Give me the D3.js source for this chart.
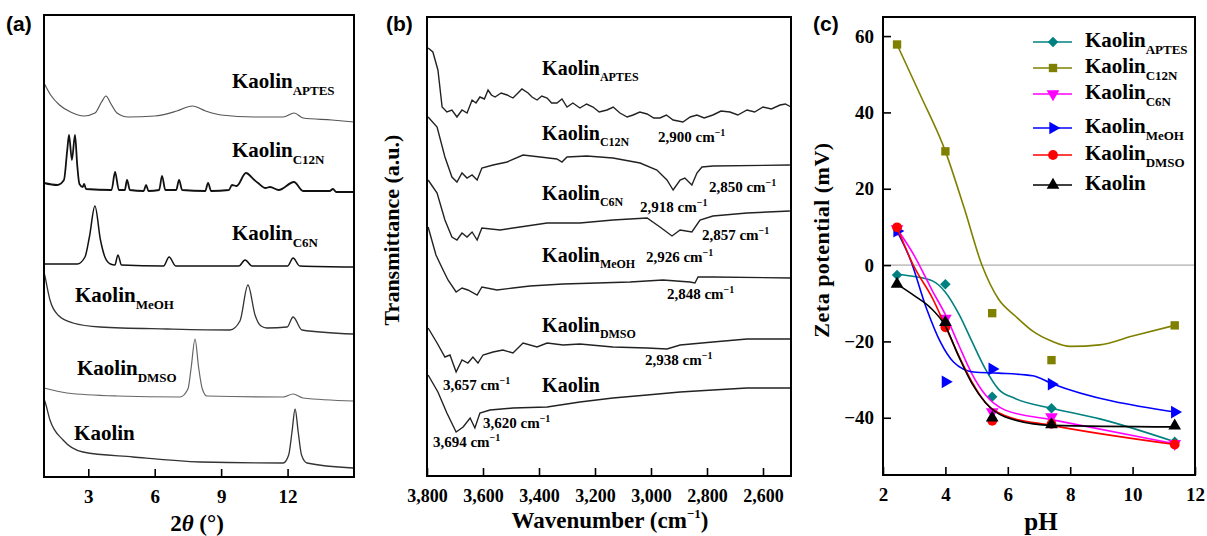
<!DOCTYPE html>
<html>
<head>
<meta charset="utf-8">
<script src="https://cdn.jsdelivr.net/npm/d3@7"></script>
<style>
body{margin:0;background:#fff}
svg text{font-family:"Liberation Serif","Times New Roman","DejaVu Serif",serif;font-weight:bold;fill:#000}
svg text.plab{font-family:"Liberation Sans",Arial,sans-serif}
</style>
</head>
<body>
<div id="fig"></div>
<script>
// ---- (a) XRD, 2theta vs intensity (a.u., stacked) ----
var xrdTicks = [3, 6, 9, 12];
var xrdAptes = [[1.0,394],[1.3,382],[1.7,372],[2.2,365],[2.8,361],[3.3,364],[3.6,375],[3.8,381],[4.0,374],[4.3,364],[4.8,360],[6.0,361],[7.0,366],[7.7,371],[8.3,366],[9.0,362],[10.5,360],[11.8,360],[12.3,364],[12.7,359],[14.0,357],[15.0,355]];
var xrdC12n = [[1.0,294],[1.6,292],[1.9,297],[2.05,327],[2.13,342],[2.26,317],[2.4,342],[2.5,312],[2.6,293],[2.75,290],[2.81,293],[2.9,288],[4.05,287],[4.21,305],[4.38,287],[4.65,287],[4.75,297],[4.88,287],[5.5,286],[5.61,292],[5.72,286],[6.2,287],[6.33,301],[6.48,287],[6.97,287],[7.1,297],[7.24,287],[8.28,286],[8.41,294],[8.55,286],[9.35,287],[9.49,292],[9.7,291],[10.12,304],[10.5,297],[10.67,294],[11.0,289],[11.21,290],[11.6,287],[12.29,295],[12.7,286],[13.9,286],[14.05,288],[14.2,285],[15.0,285]];
var xrdC6n = [[1.0,213],[2.5,213],[2.85,220],[3.05,240],[3.3,271],[3.55,237],[3.75,220],[4.0,213],[4.2,212],[4.34,222],[4.5,212],[6.4,211],[6.65,220],[6.95,211],[9.8,211],[10.08,217],[10.4,211],[12.0,211],[12.25,219],[12.55,211],[15.0,210]];
var xrdMeoh = [[1.0,205],[1.05,200],[1.27,177],[1.63,162],[2.31,154],[3.53,150],[6.56,148],[9.4,147],[9.85,156],[10.21,192],[10.53,162],[10.8,151],[11.07,149],[11.98,150],[12.25,160],[12.65,147],[14.96,143]];
var xrdDmso = [[1.0,89],[2.04,84],[4.3,81],[7.14,80],[7.5,88],[7.65,110],[7.82,138],[7.98,110],[8.15,88],[8.36,81],[11.8,80],[12.25,83],[12.7,79],[14.96,76]];
var xrdKaolin = [[1.0,78],[1.05,75],[1.27,57],[1.86,37],[2.76,25],[5.02,20],[8.05,15],[11.8,14],[12.05,22],[12.2,45],[12.34,68],[12.48,45],[12.63,22],[12.88,14],[14.96,9]];

// ---- (b) FTIR, wavenumber vs transmittance (a.u., stacked) ----
var irTicks = [3800, 3600, 3400, 3200, 3000, 2800, 2600];
var irAptes = [[3796,428],[3779,424],[3761,406],[3746,369],[3729,364],[3711,366],[3693,359],[3675,366],[3657,363],[3639,376],[3625,373],[3611,379],[3595,377],[3582,386],[3570,381],[3557,379],[3535,383],[3514,381],[3493,378],[3475,383],[3461,387],[3439,383],[3425,379],[3407,376],[3390,380],[3371,378],[3355,373],[3336,373],[3318,377],[3300,369],[3279,373],[3254,368],[3230,372],[3207,369],[3185,364],[3157,366],[3135,369],[3111,363],[3085,359],[3064,361],[3040,364],[3014,362],[2990,358],[2968,358],[2945,361],[2921,356],[2886,354],[2860,359],[2836,361],[2810,358],[2779,361],[2750,365],[2718,364],[2690,361],[2657,366],[2630,364],[2600,369],[2570,367],[2539,371],[2520,372],[2500,369]];
var irC12n = [[3796,359],[3764,349],[3736,319],[3711,299],[3693,294],[3675,303],[3657,298],[3639,301],[3621,296],[3604,308],[3564,311],[3514,314],[3457,321],[3396,319],[3336,317],[3318,314],[3300,319],[3229,320],[3136,318],[3039,313],[2979,306],[2943,296],[2921,286],[2896,296],[2879,298],[2854,291],[2836,303],[2818,309],[2779,310],[2504,311]];
var irC6n = [[3796,296],[3764,283],[3736,256],[3711,239],[3693,236],[3675,243],[3657,239],[3639,244],[3621,236],[3604,248],[3539,246],[3468,249],[3371,253],[3254,253],[3136,256],[3014,258],[2968,249],[2925,240],[2896,246],[2854,244],[2825,256],[2779,260],[2657,263],[2504,265]];
var irMeoh = [[3796,249],[3768,221],[3746,208],[3725,196],[3696,184],[3675,188],[3654,186],[3621,181],[3604,189],[3550,186],[3493,188],[3432,190],[3314,192],[3193,193],[3075,194],[2957,196],[2861,194],[2843,193],[2832,199],[2779,199],[2500,198]];
var irDmso = [[3796,148],[3764,133],[3736,119],[3718,121],[3696,104],[3675,116],[3654,113],[3636,119],[3618,113],[3600,121],[3564,124],[3529,126],[3493,123],[3457,133],[3407,129],[3371,133],[3314,131],[3254,132],[3136,129],[3014,128],[2943,127],[2896,131],[2779,134],[2657,137],[2500,137]];
var irKaolin = [[3796,101],[3761,84],[3729,63],[3696,44],[3671,49],[3646,58],[3629,48],[3611,63],[3575,66],[3493,68],[3371,69],[3254,74],[3136,78],[3014,81],[2896,84],[2779,86],[2657,88],[2500,88]];
var irPeaks = [["2,900",2975,334],["2,850",2793,284],["2,918",3039,264],["2,857",2818,236],["2,926",3018,214],["2,848",2943,177],["2,938",3021,111],["3,657",3743,86],["3,620",3600,48],["3,694",3779,29]];

// ---- (c) zeta potential ----
var pH = [2.45, 4.0, 5.5, 7.4, 11.35];
var zAptes = [-2.6, -5, -34.5, -37.5, -46.3];
var zC12n = [57.8, 29.8, -12.6, -24.9, -15.8];
var zC6n = [9.5, -14, -38.5, -39.8, -46.8];
var zMeoh = [8.9, -30.6, -27.2, -31.2, -38.5];
var zDmso = [9.9, -16.3, -40.8, -41.6, -47];
var zKaolin = [-5, -15, -40, -41.8, -42.1];
// fitted curves as drawn in the figure
var fitAptes = [[2.45,-2.4],[3.0,-3],[3.6,-4.2],[4.0,-7.1],[4.43,-12.8],[4.85,-20],[5.28,-27.2],[5.7,-32.5],[6.25,-35],[7.4,-37.5],[8.95,-40.3],[11.35,-46.3]];
var fitC12n = [[2.45,57.8],[3.2,44.5],[4.0,29.8],[4.6,15],[5.17,0],[5.7,-8.9],[6.25,-13.4],[6.8,-17.3],[7.4,-19.9],[8.0,-21.3],[8.95,-20.9],[10.0,-18.6],[11.35,-15.8]];
var fitC6n = [[2.45,9.5],[3.0,2.5],[3.6,-7],[4.0,-13],[4.43,-21],[4.85,-28.5],[5.28,-34],[5.92,-38],[7.4,-40.5],[11.35,-46.8]];
var fitMeoh = [[2.45,8.9],[2.87,1.6],[3.4,-11.5],[3.83,-20],[4.26,-25.4],[4.9,-28],[5.7,-28.3],[6.8,-29],[7.4,-31],[11.35,-38.5]];
var fitDmso = [[2.45,9.9],[2.97,0],[3.6,-8.9],[4.0,-16],[4.43,-23.8],[4.85,-30.6],[5.28,-36],[5.92,-39.5],[7.4,-42],[11.35,-47]];
var fitKaolin = [[2.45,-5],[3.0,-8],[3.5,-11],[4.0,-16],[4.43,-24],[4.85,-31],[5.28,-36],[5.92,-39.8],[7.4,-42],[11.35,-42.4]];

var svg = d3.select("#fig").append("svg").attr("width", 1207).attr("height", 536);

function frame(x0, y0, x1, y1) {
    svg.append("rect").attr("x", x0).attr("y", y0).attr("width", x1 - x0).attr("height", y1 - y0)
        .attr("fill", "none").attr("stroke", "#000").attr("stroke-width", 2);
}

function kaolin(x, y, sub, fs, ss, dy) {
    var t = svg.append("text").attr("x", x).attr("y", y).style("font-size", fs + "px").text("Kaolin");
    if (sub) t.append("tspan").attr("dy", dy).style("font-size", ss + "px").text(sub);
    return t;
}

function styleAxis(g, size) {
    g.select(".domain").remove();
    g.attr("font-size", size).attr("font-family", null);
    g.selectAll(".tick line").attr("stroke-width", 1.6);
}

// ================= (a) =================
var xA = d3.scaleLinear().domain([1, 15]).range([44, 354]);
var yA = d3.scaleLinear().domain([0, 462]).range([477, 15]);
var lineA = d3.line().x(d => xA(d[0])).y(d => yA(d[1])).curve(d3.curveMonotoneX);

var xrd = [
    {d: xrdAptes, sub: "APTES", c: "#555", w: 1.2, lx: 9.49, ly: 389},
    {d: xrdC12n, sub: "C12N", c: "#111", w: 1.8, lx: 9.49, ly: 320},
    {d: xrdC6n, sub: "C6N", c: "#111", w: 1.5, lx: 9.49, ly: 237},
    {d: xrdMeoh, sub: "MeOH", c: "#333", w: 1.3, lx: 2.4, ly: 175},
    {d: xrdDmso, sub: "DMSO", c: "#666", w: 1.2, lx: 2.49, ly: 102},
    {d: xrdKaolin, sub: "", c: "#333", w: 1.3, lx: 2.36, ly: 37}
];
for (let s of xrd) {
    svg.append("path").attr("d", lineA(s.d)).attr("fill", "none").attr("stroke", s.c).attr("stroke-width", s.w);
    kaolin(xA(s.lx), yA(s.ly), s.sub, 21, 13, 7);
}
var axA = svg.append("g").attr("transform", "translate(0,477)")
    .call(d3.axisBottom(xA).tickValues(xrdTicks).tickSizeInner(-8).tickSizeOuter(0).tickPadding(13));
styleAxis(axA, 19);
frame(44, 15, 354, 477);
var tA = svg.append("text").attr("x", 197).attr("y", 531).attr("text-anchor", "middle").style("font-size", "23px").text("2");
tA.append("tspan").style("font-style", "italic").text("θ");
tA.append("tspan").text(" (°)");
svg.append("text").attr("class", "plab").attr("x", 6).attr("y", 31).style("font-size", "21px").text("(a)");

// ================= (b) =================
var xB = d3.scaleLinear().domain([3800, 2500]).range([427, 791]);
var yB = d3.scaleLinear().domain([0, 459]).range([476, 17]);
var lineB = d3.line().x(d => xB(d[0])).y(d => yB(d[1]));

var ir = [
    {d: irAptes, sub: "APTES", ly: 401},
    {d: irC12n, sub: "C12N", ly: 336},
    {d: irC6n, sub: "C6N", ly: 276},
    {d: irMeoh, sub: "MeOH", ly: 214},
    {d: irDmso, sub: "DMSO", ly: 144},
    {d: irKaolin, sub: "", ly: 84}
];
for (let s of ir) {
    svg.append("path").attr("d", lineB(s.d)).attr("fill", "none").attr("stroke", "#222").attr("stroke-width", 1.4);
    kaolin(xB(3389), yB(s.ly), s.sub, 20, 12, 6);
}
for (let p of irPeaks) {
    var t = svg.append("text").attr("x", xB(p[1])).attr("y", yB(p[2])).style("font-size", "15px").text(p[0] + " cm");
    t.append("tspan").attr("dy", -6).style("font-size", "10px").text("−1");
}
var axB = svg.append("g").attr("transform", "translate(0,476)")
    .call(d3.axisBottom(xB).tickValues(irTicks).tickFormat(d3.format(",")).tickSizeInner(-8).tickSizeOuter(0).tickPadding(13));
styleAxis(axB, 18);
frame(427, 17, 791, 476);
var tB = svg.append("text").attr("x", 610).attr("y", 528).attr("text-anchor", "middle").style("font-size", "23px").text("Wavenumber (cm");
tB.append("tspan").attr("dy", -10).style("font-size", "13px").text("−1");
tB.append("tspan").attr("dy", 10).text(")");
svg.append("text").attr("transform", "translate(399,230) rotate(-90)").attr("text-anchor", "middle")
    .style("font-size", "22px").text("Transmittance (a.u.)");
svg.append("text").attr("class", "plab").attr("x", 386).attr("y", 31).style("font-size", "21px").text("(b)");

// ================= (c) =================
var xC = d3.scaleLinear().domain([2, 12]).range([883, 1195]);
var yC = d3.scaleLinear().domain([-55, 65]).range([475, 17]);
var lineC = d3.line().x(d => xC(d[0])).y(d => yC(d[1])).curve(d3.curveMonotoneX);

svg.append("line").attr("x1", xC(2)).attr("x2", xC(12)).attr("y1", yC(0)).attr("y2", yC(0))
    .attr("stroke", "#999").attr("stroke-width", 1);

var zeta = [
    {v: zAptes, fit: fitAptes, sub: "APTES", c: "#008080", sym: d3.symbolSquare, rot: 45, size: 55},
    {v: zC12n, fit: fitC12n, sub: "C12N", c: "#808000", sym: d3.symbolSquare, rot: 0, size: 70},
    {v: zC6n, fit: fitC6n, sub: "C6N", c: "#ff00ff", sym: d3.symbolTriangle, rot: 180, size: 70},
    {v: zMeoh, fit: fitMeoh, sub: "MeOH", c: "#0000ff", sym: d3.symbolTriangle, rot: 90, size: 70},
    {v: zDmso, fit: fitDmso, sub: "DMSO", c: "#ff0000", sym: d3.symbolCircle, rot: 0, size: 75},
    {v: zKaolin, fit: fitKaolin, sub: "", c: "#000", sym: d3.symbolTriangle, rot: 0, size: 70}
];
var legendY = [42, 68, 94, 128, 155, 185];
zeta.forEach(function(s, i) {
    svg.append("path").attr("d", lineC(s.fit)).attr("fill", "none").attr("stroke", s.c).attr("stroke-width", 1.6);
    var shape = d3.symbol().type(s.sym).size(s.size);
    svg.append("g").selectAll("path").data(s.v).join("path")
        .attr("d", shape)
        .attr("transform", (d, j) => "translate(" + xC(pH[j]) + "," + yC(d) + ") rotate(" + s.rot + ")")
        .attr("fill", s.c);
    // legend
    var ly = legendY[i];
    svg.append("line").attr("x1", 1033).attr("x2", 1072).attr("y1", ly).attr("y2", ly).attr("stroke", s.c).attr("stroke-width", 1.6);
    svg.append("path").attr("d", shape).attr("transform", "translate(1053," + ly + ") rotate(" + s.rot + ")").attr("fill", s.c);
    kaolin(1085, ly + 5, s.sub, 21, 13, 7);
});

var axCx = svg.append("g").attr("transform", "translate(0,475)")
    .call(d3.axisBottom(xC).tickValues([2, 4, 6, 8, 10, 12]).tickSizeInner(-8).tickSizeOuter(0).tickPadding(13));
styleAxis(axCx, 19);
var axCy = svg.append("g").attr("transform", "translate(883,0)")
    .call(d3.axisLeft(yC).tickValues([-40, -20, 0, 20, 40, 60]).tickSizeInner(-8).tickSizeOuter(0).tickPadding(9));
styleAxis(axCy, 19);
frame(883, 17, 1195, 475);
svg.append("text").attr("x", 1041).attr("y", 530).attr("text-anchor", "middle").style("font-size", "25px").text("pH");
svg.append("text").attr("transform", "translate(829,240) rotate(-90)").attr("text-anchor", "middle")
    .style("font-size", "22px").style("letter-spacing", "0.5px").text("Zeta potential (mV)");
svg.append("text").attr("class", "plab").attr("x", 813).attr("y", 31).style("font-size", "21px").text("(c)");
</script>
</body>
</html>
